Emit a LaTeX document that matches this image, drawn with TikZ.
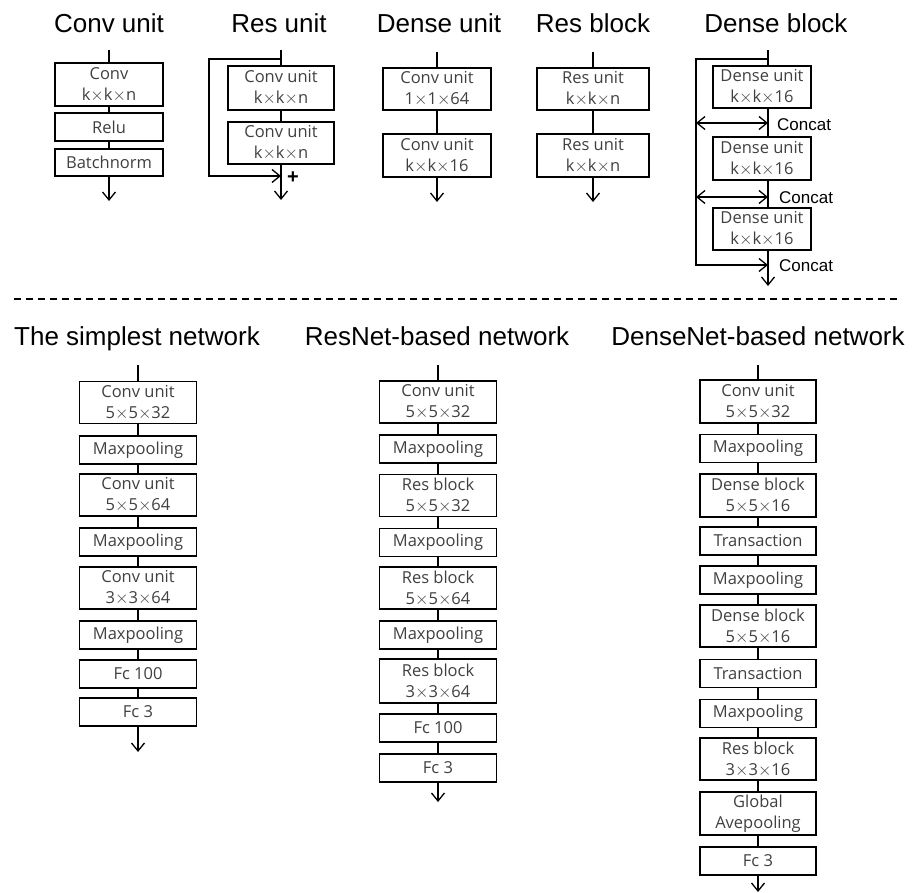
\documentclass[tikz,border=0pt]{standalone}
\usepackage{fontspec}
\setmainfont{Liberation Sans}
\newfontfamily\boxfont{Open Sans}
\usetikzlibrary{arrows.meta}

% a thin, wide multiplication sign for the kernel sizes
\newcommand{\tms}{\ensuremath{{\times}}}

\tikzset{
  unit/.style={draw, line width=1.3pt, minimum width=#1, inner sep=0pt,
    align=center, text=black!75, font=\boxfont\fontsize{16.5}{21}\selectfont},
  one/.style={minimum height=28pt},
  two/.style={minimum height=42pt},
  flow/.style={line width=1.3pt},
  flowarrow/.style={flow, -{Straight Barb[length=8pt,width=13pt,line width=1.3pt]}},
  flowboth/.style={flow, {Straight Barb[length=8pt,width=13pt,line width=1.3pt]}-{Straight Barb[length=8pt,width=13pt,line width=1.3pt]}},
  title/.style={anchor=base, font=\fontsize{26}{30}\selectfont},
  concat/.style={anchor=west, inner sep=0pt, font=\fontsize{17}{20}\selectfont},
  plus/.style={inner sep=0pt, font=\bfseries\fontsize{20}{20}\selectfont},
}

\begin{document}
\begin{tikzpicture}[x=1pt, y=-1pt]
\useasboundingbox (0,0) rectangle (912,893);

% ---------------- building blocks ----------------
\node[title] (t-cu) at (109,33) {Conv unit};
\node[title] (t-ru) at (279,33) {Res unit};
\node[title] (t-du) at (439,33) {Dense unit};
\node[title] (t-rb) at (593,33) {Res block};
\node[title] (t-db) at (776,33) {Dense block};

% Conv unit
\coordinate (cu-top) at (109,50);
\coordinate (cu-out) at (109,201);
\node[unit=108pt, minimum height=43pt] (cu1) at (109,84.5) {Conv\\k\tms k\tms n};
\node[unit=108pt, one] (cu2) at (109,127) {Relu};
\node[unit=108pt, minimum height=27pt] (cu3) at (109,162.5) {Batchnorm};
\draw[flow] (cu-top) -- (cu1);
\draw[flow] (cu1) -- (cu2);
\draw[flow] (cu2) -- (cu3);
\draw[flowarrow] (cu3) -- (cu-out);

% Res unit
\coordinate (ru-top) at (281,50);
\coordinate (ru-split) at (281,59);
\coordinate (ru-bypass) at (209,59);
\coordinate (ru-sum) at (281,176);
\coordinate (ru-out) at (281,200);
\node[unit=106pt, minimum height=44pt] (ru1) at (281,88) {Conv unit\\k\tms k\tms n};
\node[unit=106pt, two] (ru2) at (281,143) {Conv unit\\k\tms k\tms n};
\draw[flow] (ru-top) -- (ru1);
\draw[flow] (ru1) -- (ru2);
\draw[flow] (ru2) -- (ru-sum);
\draw[flowarrow] (ru-sum) -- (ru-out);
\draw[flowarrow] (ru-split) -- (ru-bypass) |- (ru-sum);
\node[plus] (ru-plus) at (293,178) {+};

% Dense unit
\coordinate (du-top) at (437,52);
\coordinate (du-out) at (437,202);
\node[unit=108pt, two] (du1) at (437,89) {Conv unit\\1\tms 1\tms 64};
\node[unit=108pt, minimum height=43pt] (du2) at (437,155.5) {Conv unit\\k\tms k\tms 16};
\draw[flow] (du-top) -- (du1);
\draw[flow] (du1) -- (du2);
\draw[flowarrow] (du2) -- (du-out);

% Res block
\coordinate (rb-top) at (593,52);
\coordinate (rb-out) at (593,202);
\node[unit=112pt, two] (rb1) at (593,89) {Res unit\\k\tms k\tms n};
\node[unit=112pt, minimum height=43pt] (rb2) at (593,155.5) {Res unit\\k\tms k\tms n};
\draw[flow] (rb-top) -- (rb1);
\draw[flow] (rb1) -- (rb2);
\draw[flowarrow] (rb2) -- (rb-out);

% Dense block
\coordinate (db-top) at (768,50);
\coordinate (db-split) at (768,59);
\coordinate (db-bus) at (696,59);
\coordinate (db-b1) at (696,123);
\coordinate (db-c1) at (768,123);
\coordinate (db-b2) at (696,197);
\coordinate (db-c2) at (768,197);
\coordinate (db-b3) at (696,265);
\coordinate (db-c3) at (768,265);
\coordinate (db-out) at (768,286);
\node[unit=98pt, two] (db1) at (762,87) {Dense unit\\k\tms k\tms 16};
\node[unit=98pt, minimum height=43pt] (db2) at (762,158.5) {Dense unit\\k\tms k\tms 16};
\node[unit=98pt, two] (db3) at (762,229) {Dense unit\\k\tms k\tms 16};
\draw[flow] (db-top) -- (db-top |- db1.north);
\draw[flow] (db1.south -| db-top) -- (db2.north -| db-top);
\draw[flow] (db2.south -| db-top) -- (db3.north -| db-top);
\draw[flowarrow] (db3.south -| db-top) -- (db-out);
\draw[flowarrow] (db-split) -- (db-bus) -- (db-b3) -- (db-c3);
\draw[flowboth] (db-b1) -- (db-c1);
\draw[flowboth] (db-b2) -- (db-c2);
\node[concat] (db-l1) at (777,125) {Concat};
\node[concat] (db-l2) at (779,198) {Concat};
\node[concat] (db-l3) at (779,266) {Concat};

% separator
\coordinate (sep-l) at (14,299);
\coordinate (sep-r) at (900,299);
\draw[line width=1.2pt, dash pattern=on 7pt off 5pt] (sep-l) -- (sep-r);

% ---------------- networks ----------------
\node[title] (t-sn) at (137,345) {The simplest network};
\node[title] (t-rn) at (437,345) {ResNet-based network};
\node[title] (t-dn) at (758,345) {DenseNet-based network};

% The simplest network
\coordinate (sn-top) at (138,365);
\coordinate (sn-out) at (138,752);
\node[unit=117pt, two] (sn1) at (138,402.5) {Conv unit\\5\tms 5\tms 32};
\node[unit=117pt, one] (sn2) at (138,450) {Maxpooling};
\node[unit=117pt, two] (sn3) at (138,495) {Conv unit\\5\tms 5\tms 64};
\node[unit=117pt, one] (sn4) at (138,542) {Maxpooling};
\node[unit=117pt, two] (sn5) at (138,588) {Conv unit\\3\tms 3\tms 64};
\node[unit=117pt, one] (sn6) at (138,635) {Maxpooling};
\node[unit=117pt, one] (sn7) at (138,674) {Fc 100};
\node[unit=117pt, one] (sn8) at (138,712) {Fc 3};
\draw[flow] (sn-top) -- (sn1);
\foreach \a/\b in {sn1/sn2, sn2/sn3, sn3/sn4, sn4/sn5, sn5/sn6, sn6/sn7, sn7/sn8}
  \draw[flow] (\a) -- (\b);
\draw[flowarrow] (sn8) -- (sn-out);

% ResNet-based network
\coordinate (rn-top) at (438,365);
\coordinate (rn-out) at (438,802);
\node[unit=117pt, two] (rn1) at (438,402) {Conv unit\\5\tms 5\tms 32};
\node[unit=117pt, one] (rn2) at (438,449) {Maxpooling};
\node[unit=117pt, two] (rn3) at (438,495.5) {Res block\\5\tms 5\tms 32};
\node[unit=117pt, one] (rn4) at (438,542.5) {Maxpooling};
\node[unit=117pt, two] (rn5) at (438,588) {Res block\\5\tms 5\tms 64};
\node[unit=117pt, one] (rn6) at (438,635) {Maxpooling};
\node[unit=117pt, minimum height=44pt] (rn7) at (438,681) {Res block\\3\tms 3\tms 64};
\node[unit=117pt, one] (rn8) at (438,728) {Fc 100};
\node[unit=117pt, one] (rn9) at (438,768) {Fc 3};
\draw[flow] (rn-top) -- (rn1);
\foreach \a/\b in {rn1/rn2, rn2/rn3, rn3/rn4, rn4/rn5, rn5/rn6, rn6/rn7, rn7/rn8, rn8/rn9}
  \draw[flow] (\a) -- (\b);
\draw[flowarrow] (rn9) -- (rn-out);

% DenseNet-based network
\coordinate (dn-top) at (758,365);
\coordinate (dn-out) at (758,892);
\node[unit=116pt, minimum height=43pt] (dn1) at (758,401.5) {Conv unit\\5\tms 5\tms 32};
\node[unit=116pt, one] (dn2) at (758,448.5) {Maxpooling};
\node[unit=116pt, minimum height=43pt] (dn3) at (758,495.5) {Dense block\\5\tms 5\tms 16};
\node[unit=116pt, one] (dn4) at (758,541) {Transaction};
\node[unit=116pt, one] (dn5) at (758,580) {Maxpooling};
\node[unit=116pt, two] (dn6) at (758,626) {Dense block\\5\tms 5\tms 16};
\node[unit=116pt, one] (dn7) at (758,673.5) {Transaction};
\node[unit=116pt, one] (dn8) at (758,713.5) {Maxpooling};
\node[unit=116pt, two] (dn9) at (758,759) {Res block\\3\tms 3\tms 16};
\node[unit=116pt, minimum height=43pt] (dn10) at (758,813.5) {Global\\Avepooling};
\node[unit=116pt, one] (dn11) at (758,861) {Fc 3};
\draw[flow] (dn-top) -- (dn1);
\foreach \a/\b in {dn1/dn2, dn2/dn3, dn3/dn4, dn4/dn5, dn5/dn6, dn6/dn7, dn7/dn8, dn8/dn9, dn9/dn10, dn10/dn11}
  \draw[flow] (\a) -- (\b);
\draw[flowarrow] (dn11) -- (dn-out);
\end{tikzpicture}
\end{document}
